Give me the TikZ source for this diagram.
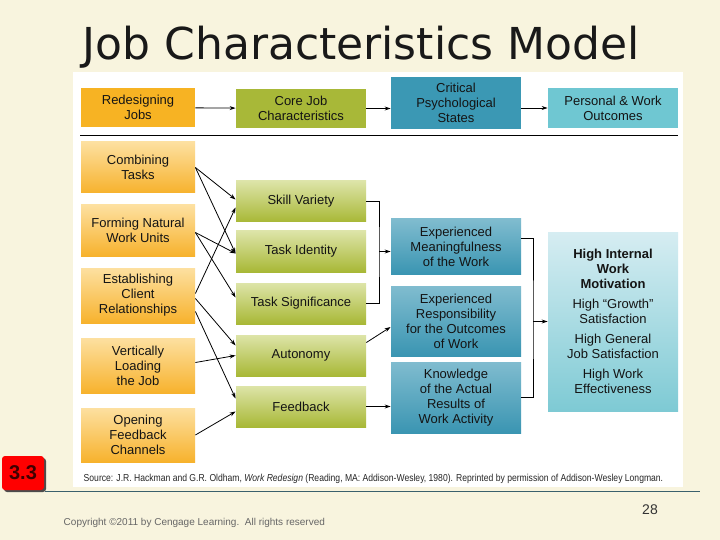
\documentclass[tikz,border=0pt]{standalone}
\usepackage{fontspec}
\setmainfont{Liberation Sans}
\newfontfamily\titlefont{DejaVu Sans}
\newfontfamily\srcfont[FakeStretch=0.85]{Liberation Sans}
\usetikzlibrary{arrows.meta,shadows}
\definecolor{slide}{RGB}{248,244,222}
\definecolor{orangeS}{RGB}{247,179,35}
\definecolor{orangeT}{RGB}{253,224,160}
\definecolor{orangeB}{RGB}{247,178,45}
\definecolor{greenS}{RGB}{168,184,56}
\definecolor{greenT}{RGB}{221,228,168}
\definecolor{greenB}{RGB}{168,184,54}
\definecolor{blueS}{RGB}{59,152,180}
\definecolor{blueT}{RGB}{128,188,207}
\definecolor{blueB}{RGB}{58,149,178}
\definecolor{tealS}{RGB}{111,199,210}
\definecolor{tealT}{RGB}{214,237,242}
\definecolor{tealB}{RGB}{126,202,212}
\definecolor{rulec}{RGB}{58,96,108}
\begin{document}
\begin{tikzpicture}[x=1pt,y=-1pt,line width=0.8pt,>={Stealth[length=6pt,width=4pt]},
    box/.style={inner sep=2pt,align=center,text=black!92,font=\fontsize{13}{15}\selectfont},
    lever/.style={box,minimum width=114pt,top color=orangeT,bottom color=orangeB},
    corejob/.style={box,minimum width=130pt,minimum height=41pt,top color=greenT,bottom color=greenB},
    psych/.style={box,minimum width=130pt,top color=blueT,bottom color=blueB}]
    \useasboundingbox[fill=slide] (0,0) rectangle (720,540);
    \fill[white] (73,72) rectangle (683,487);
    \node[anchor=base west,text=black!90,font=\titlefont\fontsize{44}{44}\selectfont] (title) at (79,60) {Job Characteristics Model};
    % header row
    \node[box,minimum width=114pt,minimum height=39pt,fill=orangeS] (redesign) at (138,107.5) {Redesigning\\Jobs};
    \node[box,minimum width=130pt,minimum height=39pt,fill=greenS] (core) at (301,108.5) {Core Job\\Characteristics};
    \node[box,minimum width=130pt,minimum height=52pt,fill=blueS] (critical) at (456,103) {Critical\\Psychological\\States};
    \node[box,minimum width=130pt,minimum height=40pt,fill=tealS] (personal) at (613,108) {Personal \& Work\\Outcomes};
    \draw[->] (redesign) -- (core);
    \draw[->] (core.east) -- (core.east -| critical.west);
    \draw[->] (critical.east |- personal.west) -- (personal.west);
    \draw[line width=1pt] (80,136) -- (678,136);
    % implementing principles
    \node[lever,minimum height=51pt] (combine) at (138,167.5) {Combining\\Tasks};
    \node[lever,minimum height=51pt] (forming) at (138,230.5) {Forming Natural\\Work Units};
    \node[lever,minimum height=55pt] (establish) at (138,295.5) {Establishing\\Client\\Relationships};
    \node[lever,minimum height=55pt] (vertical) at (138,365.5) {Vertically\\Loading\\the Job};
    \node[lever,minimum height=54pt] (opening) at (138,435) {Opening\\Feedback\\Channels};
    % core dimensions
    \node[corejob] (skill) at (301,201.5) {Skill Variety};
    \node[corejob] (identity) at (301,251.5) {Task Identity};
    \node[corejob] (signif) at (301,303.5) {Task Significance};
    \node[corejob] (autonomy) at (301,355.5) {Autonomy};
    \node[corejob] (feedback) at (301,406.5) {Feedback};
    % psychological states
    \node[psych,minimum height=55pt] (meaning) at (456,246.5) {Experienced\\Meaningfulness\\of the Work};
    \node[psych,minimum height=70pt] (respons) at (456,321) {Experienced\\Responsibility\\for the Outcomes\\of Work};
    \node[psych,minimum height=71pt] (knowledge) at (456,397.5) {Knowledge\\of the Actual\\Results of\\Work Activity};
    % outcomes
    \node[box,minimum width=130pt,minimum height=179pt,top color=tealT,bottom color=tealB] (outcome) at (613,321.5)
        {\textbf{High Internal}\\\textbf{Work}\\\textbf{Motivation}\\[5pt]High “Growth”\\Satisfaction\\[5pt]High General\\Job Satisfaction\\[5pt]High Work\\Effectiveness};
    % principles -> core dimensions
    \foreach \s/\sy/\t/\ty in {combine/0/skill/2, combine/0/identity/-2, forming/-2/identity/-2, forming/-2/signif/6,
        establish/2/skill/-6, establish/-3/autonomy/10, establish/-16/feedback/8, vertical/3/autonomy/0, opening/0/feedback/-5}
        {\draw[->] ([yshift=\sy pt]\s.east) -- ([yshift=\ty pt]\t.west);}
    % core dimensions -> states
    \coordinate (b1) at (379,251.5);
    \draw (skill.east) -| (b1) |- (signif.east);
    \draw[->] (b1) -- (b1 -| meaning.west);
    \draw[->] ([yshift=13pt]autonomy.east) -- ([yshift=-6pt]respons.west);
    \draw[->] (feedback.east) -- (feedback.east -| knowledge.west);
    % states -> outcomes
    \coordinate (b2) at (533,321.5);
    \draw ([yshift=8pt]meaning.east) -| (b2) |- (knowledge.east);
    \draw[->] (b2) -- (outcome.west);
    % footer
    \node[anchor=base west,font=\srcfont\fontsize{10.1}{12}\selectfont,text=black!85] (source) at (80,481)
        {Source: J.R. Hackman and G.R. Oldham, \textit{Work Redesign} (Reading, MA: Addison-Wesley, 1980). Reprinted by permission of Addison-Wesley Longman.};
    \node[fill=red,rounded corners=3pt,minimum width=42pt,minimum height=34pt,text=black!75!red,
        font=\bfseries\fontsize{20}{20}\selectfont,drop shadow={shadow xshift=2pt,shadow yshift=-2pt,fill=black!70,opacity=1}] (chapter) at (23,473) {3.3};
    \draw[rulec,line width=1pt] (45,491) -- (700,491);
    \node[anchor=base,text=black!80,font=\fontsize{14}{14}\selectfont] (page) at (650,514) {28};
    \node[anchor=base west,text=black!60,font=\fontsize{10}{12}\selectfont] (copyright) at (60,525) {Copyright \textcopyright2011 by Cengage Learning.\ \ All rights reserved};
\end{tikzpicture}
\end{document}
